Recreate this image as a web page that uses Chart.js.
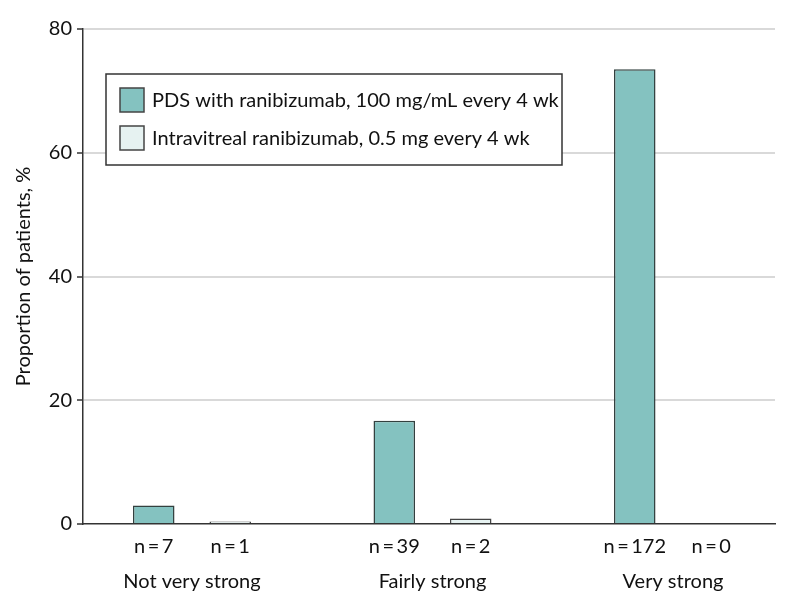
<!DOCTYPE html>
<html>
<head>
<meta charset="utf-8">
<script src="https://cdn.jsdelivr.net/npm/chart.js@4/dist/chart.umd.min.js"></script>
<style>
  html, body { margin: 0; padding: 0; background: #fff; }
  #wrap { width: 794px; height: 609px; }
</style>
</head>
<body>
<div id="wrap"><canvas id="out" width="794" height="609"></canvas></div>
<script>
const categories = ["Not very strong", "Fairly strong", "Very strong"];
const groupPos = [0, 1, 2];
const pdsValues = [3.0, 16.7, 73.5];
const ivtValues = [0.4, 0.9, 0];
const pdsCounts = [7, 39, 172];
const ivtCounts = [1, 2, 0];
const yTicks = [0, 20, 40, 60, 80];
const seriesNames = [
	"PDS with ranibizumab, 100 mg/mL every 4 wk",
	"Intravitreal ranibizumab, 0.5 mg every 4 wk"
];

const FONT = "Lato, 'Liberation Sans', sans-serif";
const textColor = "#111";
const tealFill = "#84c2c0";
const lightFill = "#e6f2f1";
const barBorder = "#33403f";

function toPoints(values) {
	return values.map((v, i) => ({ x: groupPos[i], y: v }));
}

// n = ... under every bar, placed from the bar elements
const countLabels = {
	id: "countLabels",
	afterDraw(chart) {
		const ctx = chart.ctx;
		const counts = [pdsCounts, ivtCounts];
		ctx.save();
		ctx.font = "20px " + FONT;
		ctx.fillStyle = textColor;
		ctx.textAlign = "center";
		ctx.textBaseline = "alphabetic";
		chart.data.datasets.forEach((ds, d) => {
			chart.getDatasetMeta(d).data.forEach((bar, i) => {
				ctx.fillText(`n\u2009=\u2009${counts[d][i]}`, bar.x, 553);
			});
		});
		ctx.restore();
	}
};

// boxed legend inside the plot
const boxLegend = {
	id: "boxLegend",
	afterDatasetsDraw(chart) {
		const ctx = chart.ctx;
		const fills = [tealFill, lightFill];
		ctx.save();
		ctx.fillStyle = "#fff";
		ctx.fillRect(106, 74, 456, 91);
		ctx.strokeStyle = "#333";
		ctx.lineWidth = 1.5;
		ctx.strokeRect(106, 74, 456, 91);
		ctx.font = "20px " + FONT;
		ctx.textBaseline = "middle";
		ctx.textAlign = "left";
		seriesNames.forEach((name, i) => {
			const y = 100 + i * 38;
			ctx.fillStyle = fills[i];
			ctx.fillRect(120, y - 12, 24, 24);
			ctx.strokeStyle = "#444";
			ctx.lineWidth = 1.5;
			ctx.strokeRect(120, y - 12, 24, 24);
			ctx.fillStyle = textColor;
			ctx.fillText(name, 152, y + 1);
		});
		ctx.restore();
	}
};

const chartConfig = {
	type: "bar",
	data: {
		datasets: [
			{
				label: seriesNames[0],
				data: toPoints(pdsValues),
				backgroundColor: tealFill,
				borderColor: barBorder,
				borderWidth: 1.5,
				borderSkipped: "start"
			}, {
				label: seriesNames[1],
				data: toPoints(ivtValues),
				backgroundColor: lightFill,
				borderColor: "#444",
				borderWidth: 1.5,
				borderSkipped: "start"
			}
		]
	},
	options: {
		responsive: false,
		animation: false,
		events: [],
		categoryPercentage: 0.636,
		barPercentage: 0.543,
		layout: { padding: { left: 0, right: 19, top: 29, bottom: 0 } },
		plugins: {
			legend: { display: false },
			tooltip: { enabled: false }
		},
		scales: {
			x: {
				type: "linear",
				offset: false,
				bounds: "data",
				grace: 0,
				min: -0.4532,
				max: 2.4241,
				afterBuildTicks(scale) {
					scale.ticks = groupPos.map(v => ({ value: v }));
				},
				afterFit(scale) { scale.height = 85; },
				grid: { display: false, drawTicks: false, offset: false },
				border: { display: true, color: "#333", width: 1.5 },
				ticks: {
					padding: 46,
					color: textColor,
					font: { family: FONT, size: 20 },
					maxRotation: 0,
					autoSkip: false,
					callback: (v) => categories[groupPos.indexOf(v)] || ""
				}
			},
			y: {
				min: 0,
				max: 80,
				afterBuildTicks(scale) {
					scale.ticks = yTicks.map(v => ({ value: v }));
				},
				afterFit(scale) { scale.width = 83; },
				grid: {
					color: (c) => c.tick && c.tick.value === 0 ? "rgba(0,0,0,0)" : "#d9d9d9",
					lineWidth: 2,
					tickLength: 6,
					tickColor: "#333",
					tickWidth: 1.5
				},
				border: { display: true, color: "#333", width: 1.5 },
				ticks: {
					padding: 5,
					color: textColor,
					font: { family: FONT, size: 20 }
				},
				title: {
					display: true,
					text: "Proportion of patients, %",
					color: textColor,
					font: { family: FONT, size: 20 },
					padding: { top: 12, bottom: 0 }
				}
			}
		}
	},
	plugins: [boxLegend, countLabels]
};

window.chart = new Chart(document.getElementById("out").getContext("2d"), chartConfig);
</script>
</body>
</html>
